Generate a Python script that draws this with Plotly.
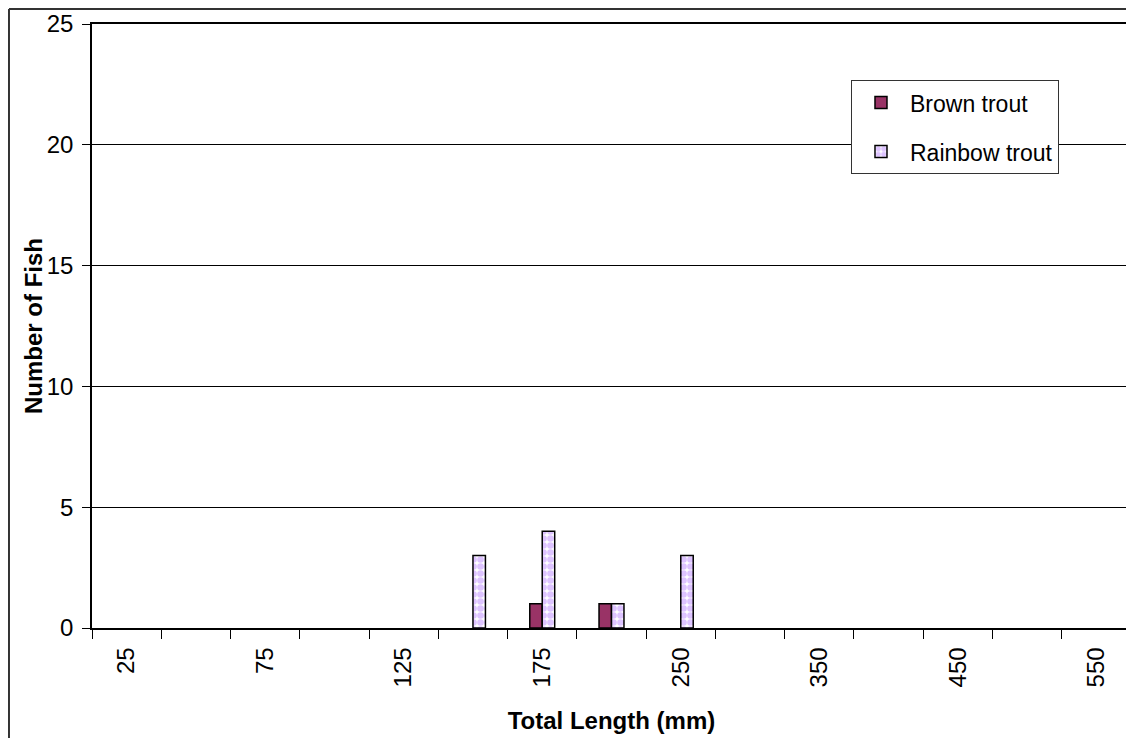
import plotly.graph_objects as go

# Total length classes (mm)
categorias = ["25", "50", "75", "100", "125", "150", "175", "200",
              "250", "300", "350", "400", "450", "500", "550"]
etiquetas = ["25", "", "75", "", "125", "", "175", "",
             "250", "", "350", "", "450", "", "550"]

brown_trout = [0, 0, 0, 0, 0, 0, 1, 1, 0, 0, 0, 0, 0, 0, 0]
rainbow_trout = [0, 0, 0, 0, 0, 3, 4, 1, 3, 0, 0, 0, 0, 0, 0]

fuente = "Liberation Sans, Arial, sans-serif"


def sin_ceros(valores):
    # Excel no dibuja nada para las clases vacias
    return [v if v else None for v in valores]


fig = go.Figure()
fig.add_trace(go.Bar(
    x=categorias, y=sin_ceros(brown_trout), name="Brown trout",
    legendgroup="b",
    marker=dict(color="#993366", line=dict(color="black", width=1.5)),
))
fig.add_trace(go.Bar(
    x=categorias, y=sin_ceros(rainbow_trout), name="Rainbow trout",
    legendgroup="r",
    marker=dict(
        color="white",
        line=dict(color="black", width=1.5),
        pattern=dict(shape=".", fgcolor="#BB88FF", bgcolor="white",
                     size=7, solidity=0.7),
    ),
))

# la pagina deja 8 px de margen alrededor de la figura
fig.update_layout(
    width=1126, height=730,
    margin=dict(l=84, r=3, t=16, b=110),
    paper_bgcolor="white", plot_bgcolor="white",
    barmode="group", bargap=0.64, bargroupgap=0,
    font=dict(family=fuente, size=24, color="black"),
    showlegend=True,
    legend=dict(
        x=0.7305, y=0.907, xanchor="left", yanchor="top",
        bgcolor="white", bordercolor="#333333", borderwidth=1,
        font=dict(size=23), tracegroupgap=16,
        traceorder="grouped", itemwidth=48,
    ),
)

fig.update_xaxes(
    type="category", automargin=True,
    tickvals=categorias, ticktext=etiquetas,
    tickangle=-90, tickson="boundaries",
    ticks="outside", ticklen=9, tickcolor="black", tickwidth=1,
    ticklabelstandoff=8,
    showline=True, linecolor="black", linewidth=1.5, mirror=True,
    showgrid=False,
    title=dict(text="<b>Total Length (mm)</b>", font=dict(size=24), standoff=26),
    tickfont=dict(size=24),
)
fig.update_yaxes(
    range=[0, 25], dtick=5, automargin=False,
    ticks="outside", ticklen=8, tickcolor="black",
    ticklabelstandoff=4,
    showline=True, linecolor="black", linewidth=1.5, mirror=True,
    showgrid=True, gridcolor="black", gridwidth=1,
    zeroline=False,
    tickfont=dict(size=24),
)

# titulo del eje Y
fig.add_annotation(
    text="<b>Number of Fish</b>", textangle=-90,
    xref="paper", yref="paper", x=-0.0568, y=0.5,
    xanchor="center", yanchor="middle", showarrow=False,
    font=dict(size=24),
)

# Chart border (left and top edges visible)
fig.add_shape(type="line", xref="paper", yref="paper",
              x0=-0.0799, x1=-0.0799, y0=1.0248, y1=-0.3,
              line=dict(color="#333333", width=2))
fig.add_shape(type="line", xref="paper", yref="paper",
              x0=-0.0799, x1=1.01, y0=1.0248, y1=1.0248,
              line=dict(color="#333333", width=2))

fig.write_html("out.html")
